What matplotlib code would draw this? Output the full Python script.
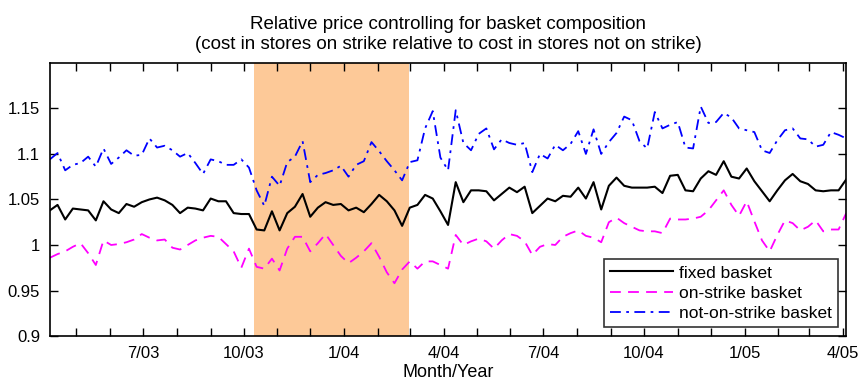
import pandas as pd
import matplotlib
matplotlib.use('Agg')
import matplotlib.pyplot as plt
import matplotlib.dates as mdates

plt.rcParams['font.family'] = ['Liberation Sans Narrow', 'Liberation Sans', 'DejaVu Sans']

# weekly observations, Apr 2003 - Apr 2005
dates = pd.date_range('2003-04-07', periods=105, freq='7D')

fixed = [1.038, 1.044, 1.028, 1.040, 1.039, 1.038, 1.027, 1.048, 1.039, 1.035,
         1.045, 1.042, 1.047, 1.050, 1.052, 1.049, 1.044, 1.035, 1.041, 1.040,
         1.038, 1.051, 1.048, 1.048, 1.035, 1.034, 1.034, 1.017, 1.016, 1.037,
         1.016, 1.035, 1.042, 1.056, 1.031, 1.041, 1.047, 1.044, 1.045, 1.038,
         1.041, 1.036, 1.045, 1.055, 1.048, 1.038, 1.021, 1.041, 1.044, 1.055,
         1.051, 1.037, 1.022, 1.069, 1.047, 1.060, 1.060, 1.059, 1.049, 1.056,
         1.063, 1.058, 1.064, 1.035, 1.043, 1.051, 1.048, 1.054, 1.053, 1.063,
         1.051, 1.069, 1.039, 1.065, 1.074, 1.065, 1.063, 1.063, 1.063, 1.064,
         1.057, 1.076, 1.077, 1.060, 1.059, 1.073, 1.081, 1.077, 1.092, 1.075,
         1.073, 1.084, 1.070, 1.059, 1.048, 1.060, 1.071, 1.078, 1.070, 1.067,
         1.060, 1.059, 1.060, 1.060, 1.072]

on_strike = [0.986, 0.990, 0.993, 0.998, 1.002, 0.991, 0.978, 1.005, 1.000, 1.001,
             1.003, 1.006, 1.012, 1.008, 1.005, 1.006, 0.997, 0.995, 1.000, 1.005,
             1.008, 1.010, 1.009, 1.001, 0.993, 0.975, 0.996, 0.976, 0.974, 0.985,
             0.972, 0.996, 1.009, 1.009, 0.993, 1.002, 1.012, 1.000, 0.988, 0.980,
             0.986, 0.993, 1.002, 0.987, 0.970, 0.958, 0.973, 0.982, 0.974, 0.982,
             0.982, 0.978, 0.974, 1.011, 1.000, 1.004, 1.007, 1.004, 0.996, 1.005,
             1.012, 1.010, 1.004, 0.989, 0.998, 1.001, 1.000, 1.009, 1.013, 1.016,
             1.010, 1.008, 1.003, 1.025, 1.030, 1.024, 1.020, 1.016, 1.015, 1.015,
             1.013, 1.029, 1.028, 1.028, 1.029, 1.031, 1.038, 1.049, 1.060, 1.044,
             1.032, 1.048, 1.026, 1.005, 0.993, 1.011, 1.027, 1.024, 1.016, 1.020,
             1.027, 1.015, 1.017, 1.017, 1.035]

not_on_strike = [1.094, 1.101, 1.082, 1.088, 1.090, 1.097, 1.086, 1.106, 1.089, 1.096,
                 1.104, 1.098, 1.099, 1.117, 1.107, 1.109, 1.104, 1.097, 1.101, 1.090,
                 1.078, 1.094, 1.092, 1.088, 1.088, 1.094, 1.085, 1.060, 1.043, 1.075,
                 1.065, 1.091, 1.097, 1.114, 1.069, 1.077, 1.079, 1.082, 1.087, 1.075,
                 1.088, 1.092, 1.113, 1.103, 1.092, 1.082, 1.071, 1.091, 1.093, 1.128,
                 1.147, 1.096, 1.082, 1.148, 1.112, 1.104, 1.122, 1.128, 1.105, 1.116,
                 1.112, 1.110, 1.112, 1.080, 1.100, 1.095, 1.110, 1.104, 1.111, 1.125,
                 1.100, 1.127, 1.100, 1.113, 1.123, 1.141, 1.137, 1.114, 1.106, 1.146,
                 1.128, 1.132, 1.135, 1.107, 1.106, 1.152, 1.134, 1.135, 1.145, 1.140,
                 1.128, 1.126, 1.124, 1.104, 1.101, 1.115, 1.126, 1.128, 1.117, 1.116,
                 1.108, 1.110, 1.124, 1.121, 1.117]

strike_start = pd.Timestamp('2003-10-11')
strike_end = pd.Timestamp('2004-02-29')

y_ticks = [0.9, 0.95, 1.0, 1.05, 1.1, 1.15]
y_labels = ['0.9', '0.95', '1', '1.05', '1.1', '1.15']

fig = plt.figure(figsize=(8.6, 3.81), dpi=100)
ax = fig.add_axes([0.058, 0.118, 0.926, 0.717])

ax.axvspan(strike_start, strike_end, color='#FDC998', lw=0, zorder=0)

ax.plot(dates, fixed, color='black', lw=1.5, label='fixed basket')
ax.plot(dates, on_strike, color='#FF00FF', lw=1.3, dashes=(6, 4), label='on-strike basket')
ax.plot(dates, not_on_strike, color='#0000FF', lw=1.3, dashes=(6, 3, 1.5, 3),
        label='not-on-strike basket')

ax.set_xlim(dates[0], dates[-1])
ax.set_ylim(0.9, 1.2)
ax.set_yticks(y_ticks)
ax.set_yticklabels(y_labels)

ax.xaxis.set_major_locator(mdates.MonthLocator(bymonth=[1, 4, 7, 10]))
ax.xaxis.set_minor_locator(mdates.MonthLocator())
ax.xaxis.set_major_formatter(mdates.DateFormatter('%-m/%y'))

ax.tick_params(which='both', direction='in', top=True, right=True, length=6,
               width=1, labelsize=12, pad=7)
for s in ax.spines.values():
    s.set_linewidth(1.2)

ax.set_xlabel('Month/Year', fontsize=13, labelpad=2)
ax.set_title('Relative price controlling for basket composition\n'
             '(cost in stores on strike relative to cost in stores not on strike)',
             fontsize=13.5, pad=10, linespacing=1.25)

leg = ax.legend(loc='lower right', fontsize=12.5, frameon=True, fancybox=False,
                edgecolor='black', borderpad=0.35, handlelength=3.6,
                handletextpad=0.35, labelspacing=0.3, borderaxespad=0.5)
leg.get_frame().set_linewidth(1.2)

plt.savefig('out.png', dpi=100)
